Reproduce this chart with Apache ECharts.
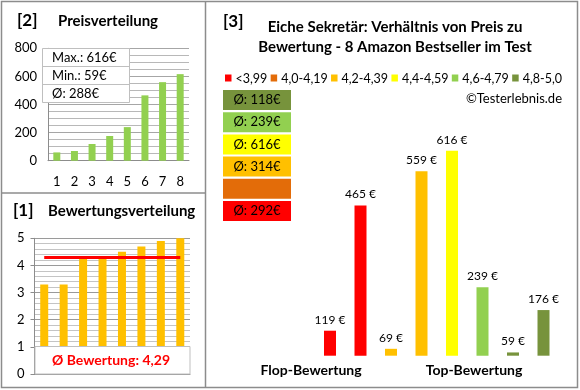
<!DOCTYPE html>
<html><head><meta charset="utf-8">
<script src="https://cdn.jsdelivr.net/npm/echarts@6/dist/echarts.min.js"></script>
<style>html,body{margin:0;padding:0;background:#fff}#c{width:580px;height:390px}</style>
</head><body><div id="c"></div>
<script>
// ---- data ----
const priceCategories = ['1','2','3','4','5','6','7','8'];
const pricesSorted = [59, 69, 119, 176, 239, 465, 559, 616];
const priceTicks = [0, 200, 400, 600, 800];
const ratingsSorted = [3.3, 3.3, 4.3, 4.3, 4.5, 4.7, 4.9, 5.0];
const ratingTicks = [0, 1, 2, 3, 4, 5];
const productPrices = [119, 465, 69, 559, 616, 239, 59, 176];
const productRatings = [3.3, 3.3, 4.3, 4.3, 4.5, 4.7, 4.9, 5.0];
const productCategories = ['P1','P2','P3','P4','P5','P6','P7','P8'];
const bandNames = ['<3,99', '4,0-4,19', '4,2-4,39', '4,4-4,59', '4,6-4,79', '4,8-5,0'];
const bandMins = [0, 4.0, 4.2, 4.4, 4.6, 4.8];
const bandColors = ['#FF0000', '#E36C09', '#FFC000', '#FFFF00', '#92D050', '#77933C'];

const FONT = 'Lato';
function bandOf(r){ let b = 0; for (let i = 0; i < bandMins.length; i++) if (r >= bandMins[i] - 1e-9) b = i; return b; }
const productBands = productRatings.map(bandOf);
const bandAvg = bandNames.map((_, b) => {
  const v = productPrices.filter((p, i) => productBands[i] === b);
  return v.length ? Math.round(v.reduce((a, c) => a + c, 0) / v.length) : null;
});
const pMax = Math.max(...pricesSorted), pMin = Math.min(...pricesSorted);
const pAvg = Math.round(pricesSorted.reduce((a, c) => a + c, 0) / pricesSorted.length);
const rAvgRaw = ratingsSorted.reduce((a, c) => a + c, 0) / ratingsSorted.length;
const rAvg = Math.round(rAvgRaw * 100 + 1e-6) / 100;

const chart = echarts.init(document.getElementById('c'), null, {renderer: 'canvas'});
const grey = '#8c8c8c';
const txt = '#000';

const bandSeries = bandNames.map((name, b) => ({
  name, type: 'bar', xAxisIndex: 2, yAxisIndex: 2, barWidth: 12, barGap: '-100%',
  itemStyle: {color: bandColors[b]},
  label: {show: true, position: 'top', distance: 5, formatter: p => p.value + ' €', color: txt, fontFamily: FONT, fontSize: 12},
  data: productPrices.map((p, i) => productBands[i] === b ? p : '-')
}));

const boxes = [];
[5, 4, 3, 2, 1, 0].forEach((b, k) => {
  boxes.push({type: 'rect', z: 100, shape: {x: 223, y: 90 + k * 22.2, width: 68, height: 20}, style: {fill: bandColors[b]}});
  if (bandAvg[b] !== null) boxes.push({type: 'text', z: 101, x: 257, y: 100 + k * 22.2,
    style: {text: 'Ø: ' + bandAvg[b] + '€', fill: txt, font: '13px ' + FONT, textAlign: 'center', textVerticalAlign: 'middle'}});
});

// legend laid out sequentially between x=225 and x=562
const LEG_FONT = '12.5px ' + FONT;
const mctx = document.createElement('canvas').getContext('2d');
mctx.font = LEG_FONT;
const legW = bandNames.map(n => mctx.measureText(n).width);
const SQ = 6.5, SQGAP = 4, L0 = 225, L1 = 562;
const itemTotal = legW.reduce((a, w) => a + SQ + SQGAP + w, 0);
const legGap = (L1 - L0 - itemTotal) / (bandNames.length - 1);
const legendEls = [];
let lx = L0;
bandNames.forEach((name, b) => {
  legendEls.push({type: 'rect', z: 100, shape: {x: lx, y: 74.5, width: SQ, height: 7}, style: {fill: bandColors[b]}});
  legendEls.push({type: 'text', z: 100, x: lx + SQ + SQGAP, y: 78.5,
    style: {text: name, fill: txt, font: LEG_FONT, textVerticalAlign: 'middle'}});
  lx += SQ + SQGAP + legW[b] + legGap;
});

const g = [
  {type: 'rect', shape: {x: 1.5, y: 1.5, width: 576, height: 386}, style: {fill: null, stroke: grey, lineWidth: 1.5}},
  {type: 'line', shape: {x1: 205.5, y1: 1.5, x2: 205.5, y2: 387.5}, style: {stroke: grey, lineWidth: 1.5}},
  {type: 'line', shape: {x1: 1.5, y1: 193, x2: 205.5, y2: 193}, style: {stroke: grey, lineWidth: 1.5}},
  // top-left texts
  {type: 'text', x: 17, y: 21, style: {text: '[2]', font: 'bold 17px ' + FONT, fill: txt, textVerticalAlign: 'middle'}},
  {type: 'text', x: 58, y: 21, style: {text: 'Preisverteilung', font: 'bold 15px ' + FONT, fill: txt, textVerticalAlign: 'middle'}},
  {type: 'rect', shape: {x: 42.5, y: 48.5, width: 87, height: 54}, style: {fill: '#fff', stroke: '#bfbfbf', lineWidth: 1}},
  {type: 'line', shape: {x1: 42.5, y1: 66.5, x2: 129.5, y2: 66.5}, style: {stroke: '#bfbfbf', lineWidth: 1}},
  {type: 'line', shape: {x1: 42.5, y1: 84.5, x2: 129.5, y2: 84.5}, style: {stroke: '#bfbfbf', lineWidth: 1}},
  {type: 'text', x: 52, y: 58, style: {text: 'Max.: ' + pMax + '€', font: '13px ' + FONT, fill: txt, textVerticalAlign: 'middle'}},
  {type: 'text', x: 52, y: 76, style: {text: 'Min.: ' + pMin + '€', font: '13px ' + FONT, fill: txt, textVerticalAlign: 'middle'}},
  {type: 'text', x: 52, y: 94, style: {text: 'Ø: ' + pAvg + '€', font: '13px ' + FONT, fill: txt, textVerticalAlign: 'middle'}},
  // bottom-left texts
  {type: 'text', x: 13, y: 211, style: {text: '[1]', font: 'bold 17px ' + FONT, fill: txt, textVerticalAlign: 'middle'}},
  {type: 'text', x: 48, y: 211, style: {text: 'Bewertungsverteilung', font: 'bold 15px ' + FONT, fill: txt, textVerticalAlign: 'middle'}},
  {type: 'rect', shape: {x: 35, y: 346.5, width: 155, height: 27.5}, style: {fill: '#fff', stroke: '#bfbfbf', lineWidth: 1}},
  {type: 'text', x: 111, y: 360.5, style: {text: 'Ø Bewertung: ' + rAvg.toFixed(2).replace('.', ','), font: 'bold 14px ' + FONT, fill: '#FF0000', textAlign: 'center', textVerticalAlign: 'middle'}},
  // right panel texts
  {type: 'text', x: 223, y: 22, style: {text: '[3]', font: 'bold 17px ' + FONT, fill: txt, textVerticalAlign: 'middle'}},
  {type: 'text', x: 395, y: 27, style: {text: 'Eiche Sekretär: Verhältnis von Preis zu', font: 'bold 15px ' + FONT, fill: txt, textAlign: 'center', textVerticalAlign: 'middle'}},
  {type: 'text', x: 395, y: 47, style: {text: 'Bewertung - 8 Amazon Bestseller im Test', font: 'bold 15px ' + FONT, fill: txt, textAlign: 'center', textVerticalAlign: 'middle'}},
  {type: 'text', x: 562, y: 99, style: {text: '©Testerlebnis.de', font: '13px ' + FONT, fill: txt, textAlign: 'right', textVerticalAlign: 'middle'}},
  {type: 'text', x: 311, y: 370, style: {text: 'Flop-Bewertung', font: 'bold 14px ' + FONT, fill: txt, textAlign: 'center', textVerticalAlign: 'middle'}},
  {type: 'text', x: 474, y: 370, style: {text: 'Top-Bewertung', font: 'bold 14px ' + FONT, fill: txt, textAlign: 'center', textVerticalAlign: 'middle'}}
].map(e => Object.assign({z: 100}, e)).concat(boxes, legendEls);

chart.setOption({
  animation: false,
  textStyle: {fontFamily: FONT},
  grid: [
    {left: 48, top: 48.3, width: 141, height: 112.4},
    {left: 34.5, top: 238.3, width: 155.5, height: 135.7},
    {left: 314.75, top: 120.3, width: 244, height: 235.4}
  ],
  xAxis: [
    {gridIndex: 0, type: 'category', data: priceCategories, axisLine: {lineStyle: {color: grey}}, axisTick: {show: false},
     axisLabel: {color: txt, fontSize: 13, fontFamily: FONT, margin: 15}},
    {gridIndex: 1, type: 'category', data: priceCategories, axisLine: {lineStyle: {color: grey}}, axisTick: {show: false}, axisLabel: {show: false}},
    {gridIndex: 2, type: 'category', data: productCategories, axisLine: {show: false}, axisTick: {show: false}, axisLabel: {show: false}}
  ],
  yAxis: [
    {gridIndex: 0, type: 'value', min: priceTicks[0], max: priceTicks[priceTicks.length - 1], interval: priceTicks[1] - priceTicks[0],
     axisLine: {show: true, lineStyle: {color: grey}}, axisTick: {show: false},
     axisLabel: {color: txt, fontSize: 13, fontFamily: FONT, margin: 11},
     splitLine: {lineStyle: {color: '#a6a6a6'}}, minorTick: {show: false, splitNumber: 4},
     minorSplitLine: {show: true, lineStyle: {color: '#b8b8b8'}}},
    {gridIndex: 1, type: 'value', min: ratingTicks[0], max: ratingTicks[ratingTicks.length - 1], interval: ratingTicks[1] - ratingTicks[0],
     axisLine: {show: true, lineStyle: {color: grey}}, axisTick: {show: true, length: 4, lineStyle: {color: grey}},
     axisLabel: {color: txt, fontSize: 13, fontFamily: FONT, margin: 10},
     splitLine: {lineStyle: {color: '#9a9a9a'}}, minorTick: {show: false, splitNumber: 5},
     minorSplitLine: {show: true, lineStyle: {color: '#c4c4c4'}}},
    {gridIndex: 2, type: 'value', min: 50, max: 700, show: false, splitLine: {show: false}}
  ],
  series: [
    {type: 'bar', xAxisIndex: 0, yAxisIndex: 0, barWidth: 7, itemStyle: {color: '#92D050'}, data: pricesSorted},
    {type: 'bar', xAxisIndex: 1, yAxisIndex: 1, barWidth: 8, itemStyle: {color: '#FFC000'}, data: ratingsSorted,
     markLine: {symbol: 'none', silent: true, label: {show: false}, lineStyle: {color: '#FF0000', width: 3, type: 'solid'},
       data: [[{coord: [0, rAvgRaw]}, {coord: [7, rAvgRaw]}]]}}
  ].concat(bandSeries),
  graphic: g
});
</script></body></html>
